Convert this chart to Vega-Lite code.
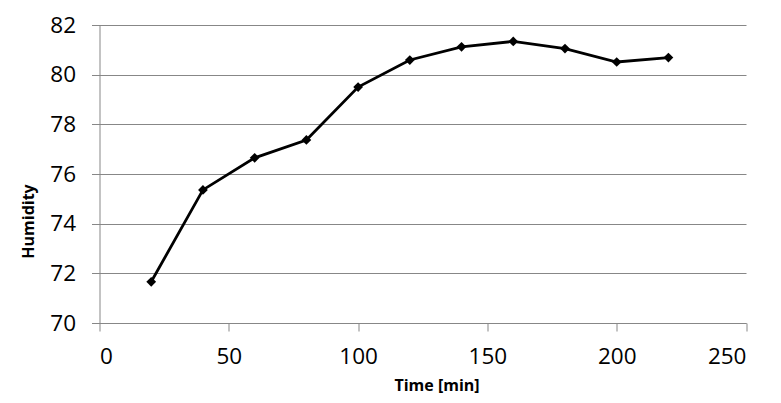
{
  "$schema": "https://vega.github.io/schema/vega-lite/v6.json",
  "width": 646.5,
  "height": 298,
  "autosize": "none",
  "padding": {"left": 99.5, "top": 25, "right": 35, "bottom": 80},
  "background": "white",
  "data": {
    "values": [
      {"time": 20, "humidity": 71.66},
      {"time": 40, "humidity": 75.36},
      {"time": 60, "humidity": 76.65},
      {"time": 80, "humidity": 77.37},
      {"time": 100, "humidity": 79.5},
      {"time": 120, "humidity": 80.59},
      {"time": 140, "humidity": 81.12},
      {"time": 160, "humidity": 81.34},
      {"time": 180, "humidity": 81.05},
      {"time": 200, "humidity": 80.51},
      {"time": 220, "humidity": 80.69}
    ]
  },
  "mark": {
    "type": "line",
    "color": "black",
    "strokeWidth": 2.8,
    "point": {"shape": "diamond", "size": 95, "filled": true, "color": "black"}
  },
  "encoding": {
    "x": {
      "field": "time",
      "type": "quantitative",
      "title": "Time [min]",
      "scale": {"domain": [0, 250], "nice": false},
      "axis": {
        "values": [0, 50, 100, 150, 200, 250],
        "grid": false,
        "domain": true,
        "domainColor": "#878787",
        "tickColor": "#878787",
        "tickSize": 8,
        "labelFontSize": 22.5,
        "labelPadding": 14,
        "labelFont": "Open Sans",
        "labelColor": "black",
        "titleFont": "Open Sans",
        "titleFontSize": 16,
        "titleFontWeight": "bold",
        "titleColor": "black",
        "titleX": 337,
        "titleY": 67,
        "titleBaseline": "alphabetic",
        "titleAnchor": null,
        "titleAlign": "center"
      }
    },
    "y": {
      "field": "humidity",
      "type": "quantitative",
      "title": "Humidity",
      "scale": {"domain": [70, 82], "nice": false, "zero": false},
      "axis": {
        "values": [70, 72, 74, 76, 78, 80, 82],
        "grid": true,
        "gridColor": "#878787",
        "gridWidth": 1,
        "domain": true,
        "domainColor": "#878787",
        "tickColor": "#878787",
        "tickSize": 8,
        "labelFontSize": 22.5,
        "labelPadding": 16,
        "labelFont": "Open Sans",
        "labelColor": "black",
        "titleFont": "Open Sans",
        "titleFontSize": 16,
        "titleFontWeight": "bold",
        "titleColor": "black",
        "titleX": -71.5,
        "titleY": 196,
        "titleAngle": -90,
        "titleBaseline": "middle",
        "titleAlign": "center"
      }
    }
  },
  "config": {"view": {"stroke": null}}
}
